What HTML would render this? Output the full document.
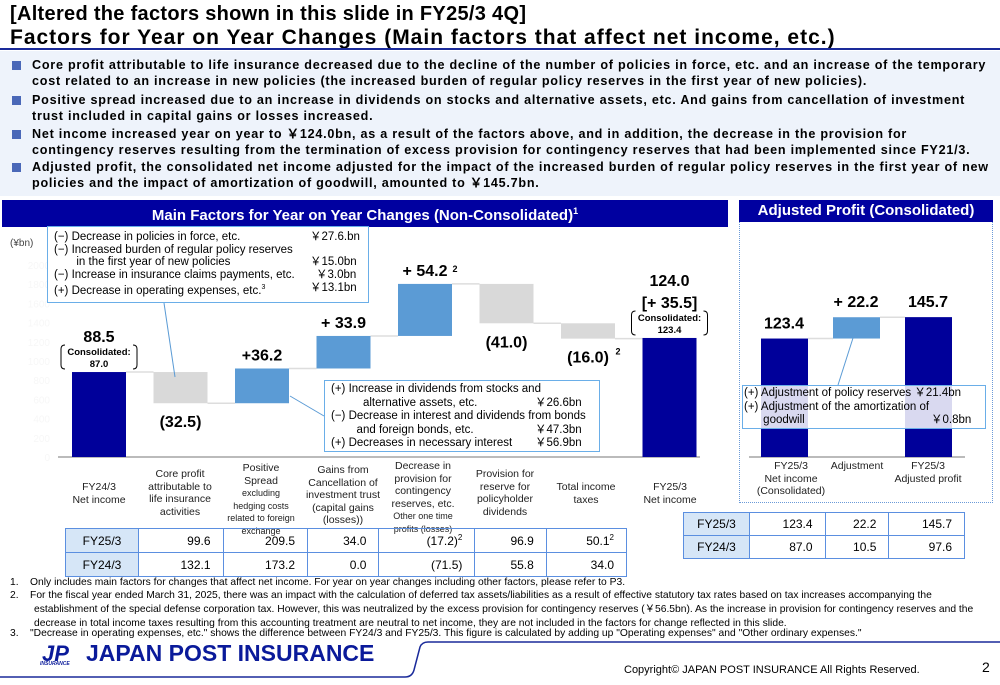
<!DOCTYPE html>
<html><head><meta charset="utf-8"><style>
*{margin:0;padding:0;box-sizing:border-box}
body{width:1000px;height:685px;position:relative;background:#fff;font-family:"Liberation Sans",sans-serif;overflow:hidden;color:#000}
.a{position:absolute;white-space:nowrap}
.t1{font-weight:bold;font-size:20px;left:10px}
.bul{left:32px;font-weight:bold;font-size:12.6px;line-height:16px;white-space:normal;width:960px;letter-spacing:0.75px}
.sq{position:absolute;left:12px;width:9px;height:9px;background:#4a68b8}
.hdr{background:#0000a0;color:#fff;font-weight:bold;font-size:15px;text-align:center;line-height:22px}
table{border-collapse:collapse;position:absolute;font-size:12px}
td{border:1.5px solid #5b8fe0;text-align:right;padding-right:12px}
td.l{background:#d6e6f7;text-align:center;padding:0}
.fn{left:10px;font-size:10.3px;line-height:14px}
</style></head><body>
<div class="a t1" style="top:3px;letter-spacing:0.3px">[Altered the factors shown in this slide in FY25/3 4Q]</div>
<div class="a t1" style="top:26px;font-size:21px;letter-spacing:1px">Factors for Year on Year Changes (Main factors that affect net income, etc.)</div>
<div class="a" style="left:0;top:48px;width:1000px;height:2px;background:#1a2a9a"></div>
<div class="a" style="left:0;top:51px;width:1000px;height:145px;background:#eef3fb"></div>
<div class="sq" style="top:61px"></div><div class="a bul" style="top:57px">Core profit attributable to life insurance decreased due to the decline of the number of policies in force, etc. and an increase of the temporary cost related to an increase in new policies (the increased burden of regular policy reserves in the first year of new policies).</div>
<div class="sq" style="top:96px"></div><div class="a bul" style="top:92px">Positive spread increased due to an increase in dividends on stocks and alternative assets, etc. And gains from cancellation of investment trust included in capital gains or losses increased.</div>
<div class="sq" style="top:130px"></div><div class="a bul" style="top:126px">Net income increased year on year to ￥124.0bn, as a result of the factors above, and in addition, the decrease in the provision for contingency reserves resulting from the termination of excess provision for contingency reserves that had been implemented since FY21/3.</div>
<div class="sq" style="top:163px"></div><div class="a bul" style="top:159px">Adjusted profit, the consolidated net income adjusted for the impact of the increased burden of regular policy reserves in the first year of new policies and the impact of amortization of goodwill, amounted to ￥145.7bn.</div>

<div class="a hdr" style="left:2px;top:200px;width:726px">Main Factors for Year on Year Changes (Non-Consolidated)<sup style="font-size:9px">1</sup></div>
<div class="a hdr" style="left:739px;top:200px;width:254px">Adjusted Profit (Consolidated)</div>
<div class="a" style="left:739px;top:222px;width:254px;height:281px;border:1.5px dotted #6a9ad8;border-top:none"></div>

<svg class="a" style="left:0;top:0" width="1000" height="685" id="chart"></svg>

<div class="a" style="left:10px;top:238px;font-size:10px;color:#444">(¥bn)</div>
<div class="a" style="left:47px;top:226px;width:322px;height:77px;border:1.5px solid #6aaee8;background:#fff;font-size:11.5px;line-height:12.7px;padding:4px 0 0 6px">
(−) Decrease in policies in force, etc.<span style="position:absolute;left:262px">￥27.6.bn</span><br>(−) Increased burden of regular policy reserves<br>&nbsp;&nbsp;&nbsp;&nbsp;&nbsp;&nbsp;&nbsp;in the first year of new policies<span style="position:absolute;left:262px">￥15.0bn</span><br>(−) Increase in insurance claims payments, etc.<span style="position:absolute;left:268px">￥3.0bn</span><br>(+) Decrease in operating expenses, etc.<sup style="font-size:7px">3</sup><span style="position:absolute;left:262px">￥13.1bn</span></div>
<div class="a" style="left:324px;top:380px;width:276px;height:72px;border:1.5px solid #6aaee8;background:#fff;font-size:11.5px;line-height:13.6px;padding:2px 0 0 6px">
(+) Increase in dividends from stocks and<br>&nbsp;&nbsp;&nbsp;&nbsp;&nbsp;&nbsp;&nbsp;&nbsp;&nbsp;&nbsp;alternative assets, etc.<span style="position:absolute;left:210px">￥26.6bn</span><br>(−) Decrease in interest and dividends from bonds<br>&nbsp;&nbsp;&nbsp;&nbsp;&nbsp;&nbsp;&nbsp;&nbsp;and foreign bonds, etc.<span style="position:absolute;left:210px">￥47.3bn</span><br>(+) Decreases in necessary interest<span style="position:absolute;left:210px">￥56.9bn</span></div>
<div class="a" style="left:742px;top:385px;width:244px;height:44px;border:1.5px solid #6aaee8;background:rgba(255,255,255,0.85);font-size:11.5px;line-height:13.6px;padding:1px 0 0 1px">
(+) Adjustment of policy reserves ￥21.4bn<br>(+) Adjustment of the amortization of<br>&nbsp;&nbsp;&nbsp;&nbsp;&nbsp;&nbsp;goodwill<span style="position:absolute;left:188px">￥0.8bn</span></div>

<div id="cats"></div>

<table style="left:65px;top:528px;width:562px">
<tr style="height:24px"><td class="l" style="width:73px">FY25/3</td><td>99.6</td><td>209.5</td><td>34.0</td><td>(17.2)<sup style="font-size:8px">2</sup></td><td>96.9</td><td>50.1<sup style="font-size:8px">2</sup></td></tr>
<tr style="height:24px"><td class="l">FY24/3</td><td>132.1</td><td>173.2</td><td>0.0</td><td>(71.5)</td><td>55.8</td><td>34.0</td></tr></table>
<table style="left:683px;top:512px;width:282px">
<tr style="height:23px"><td class="l" style="width:66px">FY25/3</td><td>123.4</td><td>22.2</td><td>145.7</td></tr>
<tr style="height:23px"><td class="l">FY24/3</td><td>87.0</td><td>10.5</td><td>97.6</td></tr></table>

<div class="a fn" style="top:576px">1.&nbsp;&nbsp;&nbsp;&nbsp;Only includes main factors for changes that affect net income. For year on year changes including other factors, please refer to P3.</div>
<div class="a fn" style="top:589px;white-space:normal;width:985px;padding-left:24px;text-indent:-24px">2.&nbsp;&nbsp;&nbsp;&nbsp;For the fiscal year ended March 31, 2025, there was an impact with the calculation of deferred tax assets/liabilities as a result of effective statutory tax rates based on tax increases accompanying the establishment of the special defense corporation tax. However, this was neutralized by the excess provision for contingency reserves (￥56.5bn). As the increase in provision for contingency reserves and the decrease in total income taxes resulting from this accounting treatment are neutral to net income, they are not included in the factors for change reflected in this slide.</div>
<div class="a fn" style="top:627px">3.&nbsp;&nbsp;&nbsp;&nbsp;"Decrease in operating expenses, etc." shows the difference between FY24/3  and FY25/3. This figure is calculated by adding up "Operating expenses" and "Other ordinary expenses."</div>
<div class="a" style="left:42px;top:641px;font-size:22px;font-weight:900;font-style:italic;color:#0a1a9a">JP</div>
<div class="a" style="left:40px;top:661px;font-size:5px;font-weight:bold;font-style:italic;color:#0a1a9a">INSURANCE</div>
<div class="a" style="left:86px;top:640px;font-size:23px;font-weight:bold;color:#0a1a9a">JAPAN POST INSURANCE</div>
<svg class="a" style="left:0;top:640px" width="1000" height="40"><path d="M0 37 H405 Q412 37 414 30 L420 7 Q422 2 428 2 H1000" stroke="#1a2a9a" stroke-width="1.5" fill="none"/></svg>
<div class="a" style="left:624px;top:664px;font-size:11px">Copyright© JAPAN POST INSURANCE All Rights Reserved.</div>
<div class="a" style="left:982px;top:659px;font-size:14px">2</div>

<script>
const categories=["FY24/3 Net income","Core profit","Positive Spread","Gains from Cancellation","Decrease in provision","Provision for reserve","Total income taxes","FY25/3 Net income"];
const deltas=[88.5,-32.5,36.2,33.9,54.2,-41.0,-16.0,124.0];
const barLabels=["88.5","(32.5)","+36.2","+ 33.9","+ 54.2","(41.0)","(16.0)","124.0"];
const kinds=["total","neg","pos","pos","pos","neg","neg","total"];
const adjCategories=["FY25/3 Net income (Consolidated)","Adjustment","FY25/3 Adjusted profit"];
const adjDeltas=[123.4,22.2,145.7];
const adjLabels=["123.4","+ 22.2","145.7"];
const adjKinds=["total","pos","total"];
const ghostTicks=[0,200,400,600,800,1000,1200,1400,1600,1800,2000];

const NS="http://www.w3.org/2000/svg";
const svg=document.getElementById('chart');
const base=457,k=0.96;
const y=v=>base-v*k;
const xMain=i=>72+i*81.5;
const xAdj=i=>761+i*72;
const col={total:"#00009a",neg:"#d9d9d9",pos:"#5b9bd5"};
function mk(t,a){const e=document.createElementNS(NS,t);for(const n in a)e.setAttribute(n,a[n]);svg.appendChild(e);return e;}
function txt(x,yy,s,size,w,anchor,fill){const e=mk('text',{x:x,y:yy,'font-size':size,'font-weight':w,'text-anchor':anchor||'middle',fill:fill||'#000','font-family':'Liberation Sans, sans-serif'});e.textContent=s;return e;}

ghostTicks.forEach(t=>{const e=txt(50,base+4-t*0.096,String(t),10,'normal','end','#f7f7f7');

});

function waterfall(ds,kd,labels,xf,w,names,prefix,axisX1,axisX2){
  let run=0;const tops=[];
  const ax=mk('line',{x1:axisX1,x2:axisX2,y1:base,y2:base,stroke:'#bbb','stroke-width':2});
  
  
  ds.forEach((d,i)=>{
    let lo,hi;
    if(kd[i]==='total'){lo=0;hi=d;run=d;}
    else{const s=run;run=s+d;lo=Math.min(s,run);hi=Math.max(s,run);}
    const r=mk('rect',{x:xf(i),y:y(hi),width:w,height:(hi-lo)*k,fill:col[kd[i]]});
    
    
    tops.push({lo:lo,hi:hi,run:run});
    if(i<ds.length-1){const c=mk('line',{x1:xf(i)+w,x2:xf(i+1),y1:y(run),y2:y(run),stroke:'#ddd','stroke-width':1.5});
      
      }
  });
  return tops;
}
const t1=waterfall(deltas,kinds,barLabels,xMain,54,categories,'main',58,700);
barLabels.forEach((s,i)=>{
  const cx=xMain(i)+27;let yy;
  if(kinds[i]==='neg') yy=y(t1[i].lo)+24; else yy=y(t1[i].hi)-8;
  if(i===0) yy=y(t1[i].hi)-30;
  if(i===7) yy=y(t1[i].hi)-52;
  const e=txt(cx,yy,s,16,'bold');
  
  
});
const s4=txt(xMain(4)+27+30,y(t1[4].hi)-12,'2',9,'bold');


const s6=txt(xMain(6)+27+30,y(t1[6].lo)+16,'2',9,'bold');


const d7=txt(xMain(7)+27,y(t1[7].hi)-30,'[+ 35.5]',16,'bold');


[[0,'87.0'],[7,'123.4']].forEach(([i,v])=>{
  const cx=xMain(i)+27,ty=y(t1[i].hi);
  const a=txt(cx,ty-17,'Consolidated:',9.5,'bold');
  
  
  const b=txt(cx,ty-5,v,9.5,'bold');
  
  
  const br=mk('path',{d:`M${cx-34} ${ty-27} q-4 0 -4 4 v16 q0 4 4 4 M${cx+34} ${ty-27} q4 0 4 4 v16 q0 4 -4 4`,stroke:'#000',fill:'none','stroke-width':1});
  
  
});
const t2=waterfall(adjDeltas,adjKinds,adjLabels,xAdj,47,adjCategories,'adj',749,965);
adjLabels.forEach((s,i)=>{
  const e=txt(xAdj(i)+23,y(t2[i].hi)-10,s,16,'bold');
  
  
});
const l1=mk('line',{x1:164,y1:303,x2:175,y2:377,stroke:'#5b9bd5','stroke-width':1});


const l2=mk('line',{x1:290,y1:396,x2:324,y2:416,stroke:'#5b9bd5','stroke-width':1});


const l3=mk('line',{x1:853,y1:338,x2:838,y2:385,stroke:'#5b9bd5','stroke-width':1});



const catHTML=[
 ["FY24/3<br>Net income",99,481],
 ["Core profit<br>attributable to<br>life insurance<br>activities",180,468],
 ["Positive<br>Spread<br><span style='font-size:9px;line-height:10.5px'>excluding<br>hedging costs<br>related to foreign<br>exchange</span>",261,462],
 ["Gains from<br>Cancellation of<br>investment trust<br>(capital gains<br>(losses))",343,464],
 ["Decrease in<br>provision for<br>contingency<br>reserves, etc.<br><span style='font-size:9px;line-height:10.5px'>Other one time<br>profits (losses)</span>",423,460],
 ["Provision for<br>reserve for<br>policyholder<br>dividends",505,468],
 ["Total income<br>taxes",586,481],
 ["FY25/3<br>Net income",670,481],
 ["FY25/3<br>Net income<br>(Consolidated)",791,460],
 ["Adjustment",857,460],
 ["FY25/3<br>Adjusted profit",928,460]];
const cats=document.getElementById('cats');
catHTML.forEach(([h,cx,top])=>{
  const d=document.createElement('div');
  d.className='a';
  d.style.cssText=`left:${cx-55}px;top:${top}px;width:110px;text-align:center;font-size:10.5px;line-height:12.5px;color:#222`;
  d.innerHTML=h;
  
  
  cats.appendChild(d);
});
</script>
</body></html>
